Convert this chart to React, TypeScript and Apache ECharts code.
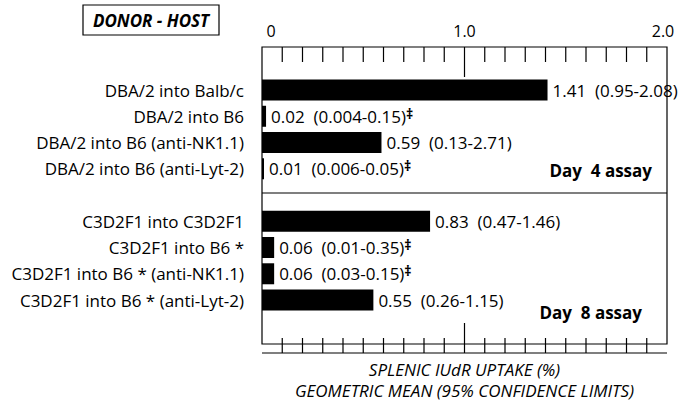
import React, { useEffect, useRef } from "react";
import * as echarts from "echarts";

const categories = [
  "DBA/2 into Balb/c",
  "DBA/2 into B6",
  "DBA/2 into B6 (anti-NK1.1)",
  "DBA/2 into B6 (anti-Lyt-2)",
  "",
  "C3D2F1 into C3D2F1",
  "C3D2F1 into B6 *",
  "C3D2F1 into B6 * (anti-NK1.1)",
  "C3D2F1 into B6 * (anti-Lyt-2)",
];
const means: (number | null)[] = [1.41, 0.02, 0.59, 0.01, null, 0.83, 0.06, 0.06, 0.55];
const limits: string[] = [
  "0.95-2.08",
  "0.004-0.15",
  "0.13-2.71",
  "0.006-0.05",
  "",
  "0.47-1.46",
  "0.01-0.35",
  "0.03-0.15",
  "0.26-1.15",
];
const significant: boolean[] = [false, true, false, true, false, false, true, true, false];
const tickValues = [0, 1, 2];
const tickTexts = ["{z|0}", "1.0", "{m|2.0}"];
const minorTickValues = [0.1, 0.2, 0.3, 0.4, 0.5, 0.6, 0.7, 0.8, 0.9, 1.1, 1.2, 1.3, 1.4, 1.5, 1.6, 1.7, 1.8, 1.9];
const majorTickValues = [1.0];

const FONT = "Open Sans";

export default function App() {
  const ref = useRef<HTMLDivElement>(null);
  useEffect(() => {
    document.body.style.margin = "0";
    const chart = echarts.init(ref.current!, undefined, { renderer: "svg" });
    const labelFor = (v: number) => {
      const k = tickValues.findIndex((t) => Math.abs(t - v) < 1e-6);
      return k >= 0 ? tickTexts[k] : "";
    };
    const L = 262;
    const W = 405;
    const TOP = 47;
    const H = 306;
    chart.setOption({
      animation: false,
      backgroundColor: "#fff",
      textStyle: { fontFamily: FONT, color: "#000" },
      grid: [
        {
          left: L, top: TOP, width: W, height: H,
          show: true, borderColor: "#000", borderWidth: 1.2, backgroundColor: "transparent",
        },
        { left: L, top: 76.9, width: W, height: 236.25 },
      ],
      xAxis: [
        {
          gridIndex: 0, type: "value", position: "top", min: 0, max: 2, interval: 1,
          axisLine: { show: false, onZero: false },
          axisTick: { show: false },
          splitLine: { show: false },
          axisLabel: {
            margin: 8, fontSize: 16, color: "#000", fontFamily: FONT,
            formatter: labelFor,
            rich: {
              z: { fontSize: 16, color: "#000", fontFamily: FONT, padding: [0, 0, 0, 18] },
              m: { fontSize: 16, color: "#000", fontFamily: FONT, padding: [0, 8, 0, 0] },
            },
          },
        },
        {
          gridIndex: 0, type: "value", position: "bottom", min: 0, max: 2, interval: 1,
          axisLine: { show: false, onZero: false },
          axisTick: { show: false },
          splitLine: { show: false },
          axisLabel: { show: false },
          name: "SPLENIC IUdR UPTAKE (%)\nGEOMETRIC MEAN (95% CONFIDENCE LIMITS)",
          nameLocation: "middle",
          nameGap: 15,
          nameTextStyle: {
            fontStyle: "italic", fontSize: 17, lineHeight: 21, color: "#000", fontFamily: FONT,
          },
        },
        {
          gridIndex: 1, type: "value", min: 0, max: 2, show: false,
        },
      ],
      yAxis: [
        { gridIndex: 0, type: "value", min: 0, max: 1, show: false },
        {
          gridIndex: 1, type: "category", inverse: true, data: categories,
          axisLine: { show: false }, axisTick: { show: false },
          axisLabel: { margin: 18, fontSize: 17, color: "#000", fontFamily: FONT },
        },
      ],
      series: [
        {
          type: "bar",
          xAxisIndex: 2,
          yAxisIndex: 1,
          data: means,
          barWidth: 21,
          itemStyle: { color: "#000" },
          label: {
            show: true,
            position: "right",
            distance: 5,
            formatter: (p: any) => {
              const i = p.dataIndex;
              if (means[i] == null) return "";
              const main = `{v|${means[i]!.toFixed(2)}  (${limits[i]})}`;
              return significant[i] ? main + "{s|‡}" : main;
            },
            rich: {
              v: { fontSize: 17, color: "#000", fontFamily: FONT, lineHeight: 20 },
              s: {
                fontSize: 14, fontWeight: "bold", color: "#000", fontFamily: FONT,
                verticalAlign: "top", lineHeight: 10, padding: [0, 0, 7, 0],
              },
            },
          },
        },
      ],
    });

    // tick marks placed through the axis scale
    const tickStyle = { stroke: "#000", lineWidth: 1.2 };
    const tickLines: any[] = [];
    const addTicks = (vals: number[], len: number) => {
      vals.forEach((v) => {
        const x = chart.convertToPixel({ xAxisIndex: 0 }, v) as number;
        tickLines.push({
          type: "line", z: 100,
          shape: { x1: x, y1: TOP, x2: x, y2: TOP + len },
          style: tickStyle,
        });
        tickLines.push({
          type: "line", z: 100,
          shape: { x1: x, y1: TOP + H, x2: x, y2: TOP + H - len },
          style: tickStyle,
        });
      });
    };
    addTicks(minorTickValues, 15);
    addTicks(majorTickValues, 30);

    chart.setOption({
      graphic: [
        ...tickLines,
        {
          type: "line", z: 100,
          shape: { x1: L, y1: 193, x2: L + W, y2: 193 },
          style: tickStyle,
        },
        {
          type: "line", z: 100,
          shape: { x1: L, y1: TOP + H, x2: L + W, y2: TOP + H },
          style: tickStyle,
        },
        {
          type: "rect",
          shape: { x: 83, y: 5, width: 136, height: 30 },
          style: { fill: "#fff", stroke: "#000", lineWidth: 1.2 },
        },
        {
          type: "text",
          x: 151, y: 20,
          style: {
            text: "DONOR - HOST", fontFamily: FONT, fontSize: 17, fontWeight: "bold",
            fontStyle: "italic", fill: "#000", align: "center", verticalAlign: "middle",
          },
        },
        {
          type: "text",
          x: 652, y: 170,
          style: {
            text: "Day  4 assay", fontFamily: FONT, fontSize: 17, fontWeight: "bold",
            fill: "#000", align: "right", verticalAlign: "middle",
          },
        },
        {
          type: "text",
          x: 642, y: 312,
          style: {
            text: "Day  8 assay", fontFamily: FONT, fontSize: 17, fontWeight: "bold",
            fill: "#000", align: "right", verticalAlign: "middle",
          },
        },
      ],
    });
    return () => chart.dispose();
  }, []);
  return <div ref={ref} style={{ width: 681, height: 406 }} />;
}
